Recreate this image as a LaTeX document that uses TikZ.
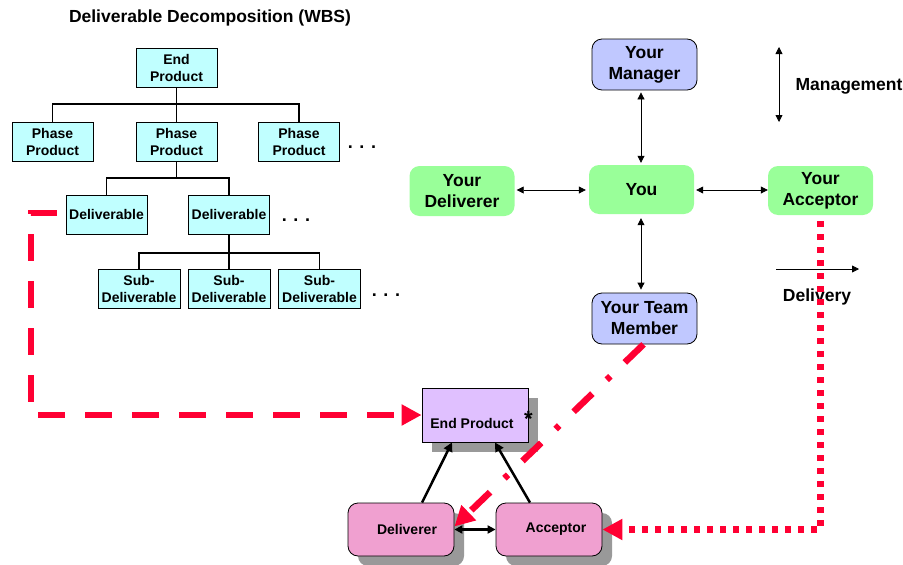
\documentclass[tikz,border=0pt]{standalone}
\usepackage{fontspec}
\setmainfont{Liberation Sans}
\usetikzlibrary{arrows.meta,shadows,calc}
\definecolor{wbscyan}{RGB}{192,255,255}
\definecolor{mgrblue}{RGB}{192,200,255}
\definecolor{yougreen}{RGB}{153,255,153}
\definecolor{eppurple}{RGB}{224,192,255}
\definecolor{rolepink}{RGB}{240,160,208}
\definecolor{linkred}{RGB}{255,0,51}
\definecolor{shadowgray}{RGB}{153,153,153}
\begin{document}
\begin{tikzpicture}[x=1pt,y=-1pt,
  wbsbox/.style={draw, line width=0.8pt, fill=wbscyan, minimum width=81pt, minimum height=39pt,
    inner sep=0pt, align=center, font=\fontsize{14}{17}\selectfont\bfseries},
  rolebox/.style={rounded corners=10pt, minimum width=105pt, minimum height=51pt, inner sep=0pt,
    align=center, font=\fontsize{17.5}{21}\selectfont\bfseries},
  bluebox/.style={rolebox, draw, line width=0.8pt, fill=mgrblue},
  greenbox/.style={rolebox, fill=yougreen, minimum height=49pt},
  grayshadow/.style={drop shadow={shadow xshift=10pt, shadow yshift=-10pt, fill=shadowgray, opacity=1}},
  epbox/.style={draw, line width=0.8pt, fill=eppurple, minimum width=106pt, minimum height=54pt, grayshadow},
  pinkbox/.style={draw, line width=0.8pt, fill=rolepink, rounded corners=10pt, minimum width=106pt,
    minimum height=53pt, inner sep=0pt, font=\fontsize{14}{17}\selectfont\bfseries, grayshadow},
  lbl/.style={font=\fontsize{17.5}{21}\selectfont\bfseries},
  smalllbl/.style={font=\fontsize{14}{17}\selectfont\bfseries},
  dots/.style={font=\fontsize{18}{20}\selectfont\bfseries, anchor=base},
  tree/.style={line width=1.5pt},
  thinarrow/.style={line width=0.8pt, {Triangle[length=7pt,width=7pt]}-{Triangle[length=7pt,width=7pt]}},
  thickarrow/.style={line width=2.5pt, -{Triangle[length=9pt,width=9pt]}},
  redtip/.style={-{Triangle[length=20pt,width=20pt]}},
  reddashed/.style={draw=linkred, line width=6.5pt, dash pattern=on 27pt off 20pt, redtip},
  reddashdot/.style={draw=linkred, line width=6.5pt, dash pattern=on 26pt off 20pt on 5pt off 20pt, redtip},
  reddotted/.style={draw=linkred, line width=6.5pt, dash pattern=on 6pt off 7pt, redtip}]
\useasboundingbox (0,0) rectangle (903,565);

% title
\node[lbl] (title) at (210,18) {Deliverable Decomposition (WBS)};

% WBS tree
\node[wbsbox] (wep) at (176.5,67.5) {End\\Product};
\node[wbsbox] (pp1) at (52.5,142) {Phase\\Product};
\node[wbsbox] (pp2) at (176.5,142) {Phase\\Product};
\node[wbsbox] (pp3) at (299,142) {Phase\\Product};
\node[wbsbox] (d1) at (106.5,214.5) {Deliverable};
\node[wbsbox] (d2) at (229,214.5) {Deliverable};
\node[wbsbox, minimum width=82pt] (s1) at (139,289) {Sub-\\Deliverable};
\node[wbsbox, minimum width=82pt] (s2) at (229,289) {Sub-\\Deliverable};
\node[wbsbox, minimum width=82pt] (s3) at (319.5,289) {Sub-\\Deliverable};
\node[dots] (dots1) at (362,148) {. . .};
\node[dots] (dots2) at (296,221) {. . .};
\node[dots] (dots3) at (386,296) {. . .};

\draw[tree] (pp1.north) |- (wep.south |- 0,104) -| (pp3.north);
\draw[tree] (wep.south) -- (pp2.north);
\draw[tree] (pp2.south) -- (pp2.south |- 0,178);
\draw[tree] (d1.north) |- (pp2.south |- 0,178) -| (d2.north);
\draw[tree] (s1.north) |- (d2.south |- 0,253) -| (s3.north);
\draw[tree] (d2.south) -- (s2.north);

% role network
\node[bluebox] (mgr) at (644.5,64.5) {Your\\Manager};
\node[greenbox] (you) at (641.5,189.5) {You};
\node[greenbox, minimum height=50pt] (ydel) at (462,191) {Your\\Deliverer};
\node[greenbox] (yacc) at (820.5,190.5) {Your\\Acceptor};
\node[bluebox] (tm) at (644.5,318.5) {Your Team\\Member};

\draw[thinarrow] ($(mgr.south)+(-3.5,2)$) -- ($(you.north)+(-0.5,-2)$);
\draw[thinarrow] ($(you.south)+(-0.5,4)$) -- ($(tm.north)+(-3.5,-3)$);
\draw[thinarrow] ($(ydel.east)+(2,-1)$) -- ($(you.west)+(-3,0.5)$);
\draw[thinarrow] ($(you.east)+(2,0.5)$) -- ($(yacc.west)+(0,-0.5)$);

\coordinate (mtop) at (779,47);
\coordinate (mbot) at (779,122);
\draw[thinarrow] (mtop) -- (mbot);
\node[lbl, anchor=west] (mlabel) at (792,86) {Management};

\coordinate (dleft) at (776,269);
\coordinate (dright) at (859,269);
\draw[line width=0.8pt, -{Triangle[length=7pt,width=7pt]}] (dleft) -- (dright);
\node[lbl] (dlabel) at (817,297) {Delivery};

% bottom pattern
\node[epbox] (ep) at (475,415) {};
\node[smalllbl] (eptext) at (472,423) {End Product};
\node[font=\fontsize{22}{24}\selectfont\bfseries, anchor=base, inner sep=0pt] (star) at (528.5,426) {*};
\node[pinkbox] (del) at (401,529.5) {\hspace*{12pt}Deliverer};
\node[pinkbox] (acc) at (549,529.5) {\hspace*{14pt}Acceptor};

\draw[thickarrow] ($(del.north)+(21,0)$) -- ($(ep.south)+(-23,0)$);
\draw[thickarrow] ($(acc.north)+(-19,0)$) -- ($(ep.south)+(20,0)$);
\draw[line width=2.5pt, {Triangle[length=8pt,width=8pt]}-{Triangle[length=8pt,width=8pt]}] (del.east) -- (acc.west);

% red connectors
\coordinate (dstart) at (57,213);
\draw[reddashed] (dstart) -- (31,213) |- (ep.west);
\draw[reddashdot] ($(tm.south)+(-1,0)$) -- ($(del.east)+(0,-3)$);
\draw[reddotted, shorten <=6pt] (yacc.south) |- (acc.east);
\end{tikzpicture}
\end{document}
